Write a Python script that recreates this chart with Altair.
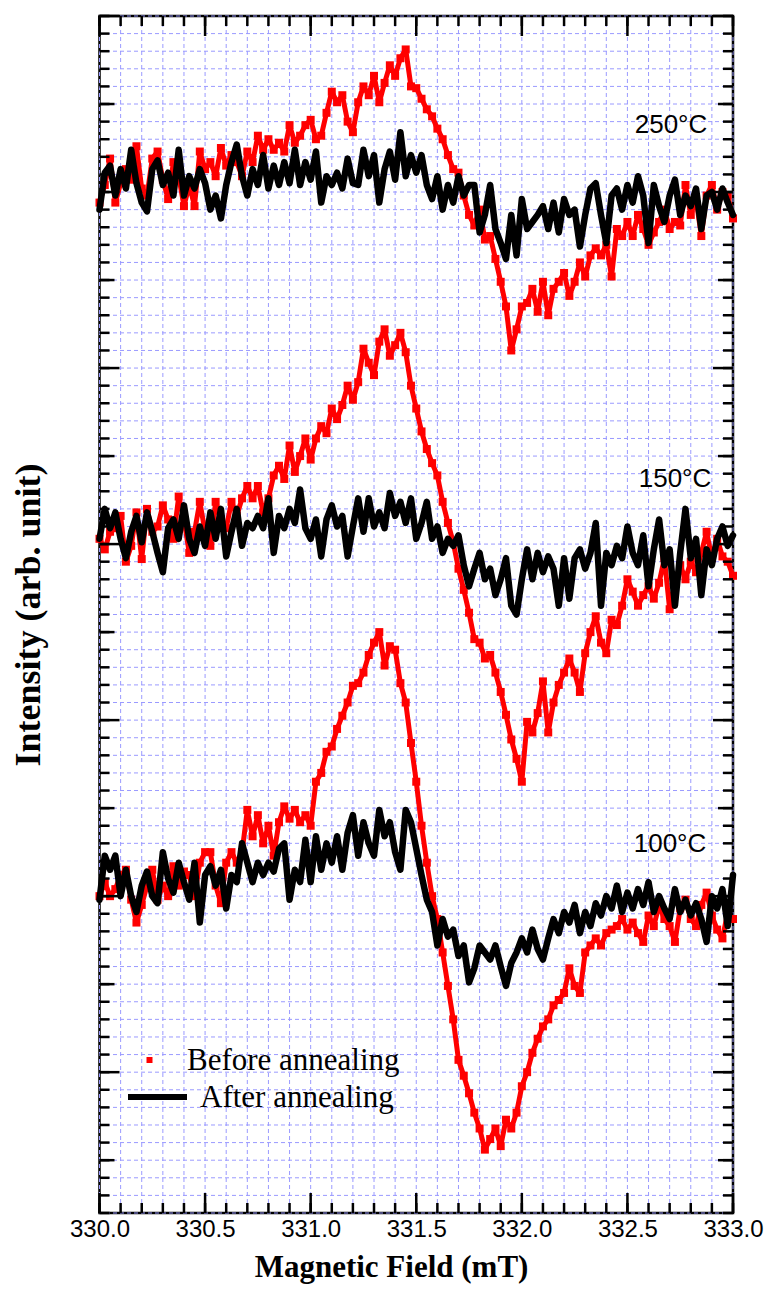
import altair as alt
import pandas as pd

# Magnetic field samples (mT)
field = [round(330 + 0.025 * i, 3) for i in range(121)]

# Intensities (arb. unit, one minor grid step = 1)
before_250 = [
    29.4, 30.4, 31.9, 29.4, 30.5, 31.3, 30.7, 32.6, 30.2, 29.8,
    31.9, 32.3, 30.7, 29.6, 31.7, 30.9, 29.2, 30.4, 29.2, 32.3,
    31.3, 31.7, 30.9, 32.5, 31.5, 32.1, 31.7, 30.9, 32.3, 31.7,
    33.2, 32.4, 33.0, 32.4, 32.8, 32.3, 33.8, 32.8, 33.2, 33.8,
    34.1, 33.0, 33.2, 34.5, 35.7, 35.1, 35.5, 34.0, 33.4, 35.1,
    36.0, 35.5, 36.6, 35.1, 36.2, 37.2, 36.6, 37.6, 38.1, 36.0,
    35.9, 35.3, 34.7, 34.3, 33.6, 33.0, 32.1, 31.3, 31.1, 29.8,
    28.7, 28.1, 29.0, 27.3, 27.5, 26.2, 24.9, 23.5, 21.0, 22.2,
    23.5, 23.7, 24.5, 23.2, 24.9, 23.0, 24.5, 24.9, 25.4, 24.1,
    24.9, 26.0, 25.2, 26.4, 26.8, 26.4, 27.0, 25.2, 27.9, 27.5,
    28.3, 27.5, 28.7, 27.9, 27.0, 27.7, 28.3, 29.0, 27.9, 28.3,
    28.1, 30.4, 28.7, 29.6, 27.5, 29.8, 30.4, 29.0, 30.0, 29.8,
    28.5,
]
after_250 = [
    29.0, 31.1, 31.5, 29.8, 31.3, 30.2, 32.4, 30.5, 29.4, 28.9,
    31.3, 31.8, 30.4, 31.1, 29.8, 32.4, 29.8, 30.9, 30.2, 31.3,
    30.5, 29.0, 29.8, 28.5, 30.4, 31.7, 32.7, 30.9, 29.8, 31.3,
    30.4, 32.1, 30.2, 31.5, 30.4, 31.7, 30.5, 32.4, 30.4, 31.7,
    30.7, 32.3, 29.4, 30.9, 30.4, 31.1, 30.2, 31.9, 30.5, 30.4,
    32.4, 30.9, 32.1, 29.4, 31.3, 32.3, 30.7, 33.4, 30.9, 32.1,
    31.1, 32.1, 30.4, 29.6, 30.9, 29.0, 30.4, 29.4, 30.9, 29.8,
    30.4, 30.4, 27.7, 28.7, 30.4, 27.9, 27.1, 26.2, 28.7, 26.4,
    29.6, 27.9, 28.3, 28.7, 29.2, 27.9, 29.4, 27.7, 29.6, 28.7,
    29.0, 26.9, 28.7, 30.2, 30.5, 28.7, 27.1, 29.8, 30.2, 29.0,
    30.4, 29.4, 30.9, 29.8, 27.1, 30.4, 29.2, 28.3, 29.8, 30.7,
    28.7, 29.8, 29.2, 30.2, 27.9, 29.8, 30.0, 29.0, 30.2, 29.4,
    28.7,
]
before_150 = [
    10.3, 9.7, 10.7, 10.9, 11.6, 9.0, 9.9, 11.8, 9.15, 12.0,
    10.7, 11.0, 12.2, 11.4, 10.3, 12.7, 11.4, 9.5, 10.7, 12.4,
    10.7, 9.9, 12.4, 11.4, 10.9, 12.4, 11.6, 12.6, 13.3, 12.6,
    13.3, 11.8, 12.6, 13.9, 14.45, 13.7, 15.6, 14.1, 15.0, 16.0,
    14.8, 16.0, 16.7, 16.3, 17.7, 17.1, 17.9, 19.0, 18.2, 19.2,
    21.1, 20.3, 19.6, 21.5, 22.2, 20.7, 21.3, 22.0, 20.9, 19.0,
    17.7, 16.4, 15.4, 14.6, 13.9, 12.4, 11.2, 10.1, 8.6, 7.4,
    6.1, 4.6, 4.4, 3.5, 3.7, 2.7, 1.6, 0.3, -1.1, -2.2,
    -3.5, -0.1, -0.7, 0.4, 2.2, -0.7, 1.0, 2.0, 2.7, 3.5,
    2.7, 1.6, 3.8, 5.0, 5.9, 4.4, 3.8, 5.7, 5.4, 6.5,
    8.0, 7.3, 6.5, 7.1, 7.6, 6.9, 7.8, 9.2, 6.3, 7.8,
    8.8, 8.0, 9.0, 8.4, 9.5, 10.7, 9.2, 10.3, 9.3, 9.0,
    8.2,
]
after_150 = [
    10.3, 12.0, 10.9, 11.8, 10.3, 9.2, 10.7, 11.6, 10.1, 11.8,
    10.7, 9.5, 8.4, 10.9, 11.4, 10.3, 12.2, 10.3, 9.5, 11.0,
    9.9, 11.8, 10.3, 12.0, 9.3, 10.7, 12.0, 9.9, 11.2, 10.9,
    11.6, 10.9, 12.6, 9.5, 11.6, 10.9, 12.0, 11.2, 13.1, 10.9,
    10.3, 11.4, 9.3, 11.4, 12.2, 11.0, 11.6, 9.3, 11.0, 12.6,
    10.7, 12.6, 11.0, 11.8, 10.9, 12.9, 11.6, 12.4, 11.2, 12.6,
    10.3, 11.2, 12.4, 10.3, 11.0, 9.5, 10.3, 9.9, 10.5, 8.8,
    7.6, 8.6, 9.5, 8.0, 8.6, 7.1, 8.0, 9.2, 6.5, 6.0,
    8.0, 9.7, 8.0, 9.5, 8.4, 9.3, 8.6, 6.5, 9.2, 6.9,
    9.2, 9.7, 8.6, 9.5, 11.2, 6.5, 9.5, 8.8, 9.9, 9.2,
    11.0, 9.5, 8.8, 10.5, 7.6, 9.7, 11.4, 8.8, 9.7, 6.5,
    9.5, 12.0, 9.2, 10.3, 7.1, 9.7, 8.8, 10.3, 11.0, 9.9,
    10.5,
]
before_100 = [
    -10.0, -9.2, -10.0, -9.6, -8.8, -8.5, -10.2, -11.5, -10.5, -9.4,
    -8.5, -10.2, -9.4, -10.0, -8.3, -9.4, -8.6, -8.8, -10.0, -8.1,
    -7.5, -7.5, -9.4, -10.4, -8.1, -7.5, -8.1, -7.5, -5.1, -6.6,
    -5.4, -7.0, -6.0, -7.7, -5.8, -4.9, -5.6, -5.1, -5.8, -5.4,
    -6.0, -3.5, -3.0, -1.8, -1.5, -0.5, 0.25, 1.0, 1.95, 2.1,
    2.7, 3.7, 4.4, 5.0, 3.1, 4.2, 4.0, 2.1, 1.0, -1.3,
    -3.5, -6.0, -8.1, -10.0, -11.3, -13.2, -15.1, -17.0, -19.3, -20.2,
    -21.2, -22.3, -23.2, -24.4, -23.8, -23.2, -24.2, -22.7, -23.2, -22.3,
    -20.8, -20.0, -18.9, -18.1, -17.4, -17.0, -16.2, -15.9, -15.5, -14.1,
    -15.1, -15.5, -13.2, -12.8, -12.4, -12.8, -12.1, -11.9, -11.7, -11.3,
    -11.9, -11.5, -12.1, -12.6, -11.1, -11.7, -10.5, -11.3, -11.7, -12.6,
    -10.7, -10.2, -11.3, -11.7, -10.5, -9.8, -11.1, -11.9, -12.4, -10.9,
    -11.3,
]
after_100 = [
    -10.2, -7.7, -8.5, -7.7, -10.0, -8.5, -10.0, -10.9, -9.4, -8.6,
    -10.0, -10.4, -7.5, -9.0, -9.8, -8.1, -9.2, -10.2, -8.1, -11.5,
    -8.8, -8.3, -9.4, -8.5, -10.7, -8.8, -9.2, -7.0, -8.1, -9.2,
    -8.1, -8.8, -8.1, -8.6, -7.3, -7.0, -10.2, -8.5, -9.2, -6.8,
    -9.2, -6.6, -8.5, -7.0, -8.1, -6.6, -8.5, -6.4, -5.4, -7.7,
    -5.8, -7.0, -7.7, -5.1, -6.6, -5.8, -7.5, -8.5, -5.1, -5.8,
    -7.3, -8.8, -10.2, -10.9, -12.8, -11.3, -12.3, -11.9, -13.4, -12.8,
    -14.9, -14.1, -12.8, -13.2, -13.6, -12.8, -14.0, -15.1, -13.8, -13.2,
    -12.4, -13.2, -11.9, -13.0, -13.6, -12.4, -11.3, -12.1, -10.9, -11.5,
    -10.5, -12.1, -10.9, -11.7, -10.4, -11.1, -10.0, -10.7, -9.4, -10.9,
    -9.8, -10.7, -9.6, -10.5, -9.2, -10.9, -10.0, -10.7, -11.3, -9.6,
    -10.9, -10.2, -11.1, -10.4, -11.3, -12.6, -10.0, -10.7, -9.6, -11.7,
    -8.8,
]

temps = ["250°C", "150°C", "100°C"]
legend_labels = ["Before annealing", "After annealing"]
x_grid_values = [round(330 + 0.1 * i, 1) for i in range(31)]
x_major_values = [330.0, 330.5, 331.0, 331.5, 332.0, 332.5, 333.0]
y_grid_values = list(range(-28, 41))
y_medium_values = [v for v in y_grid_values if v % 5 == 0 and v % 10 != 0]
y_long_values = [v for v in y_grid_values if v % 10 == 0]

rows = []
for t, b, a in zip(temps, [before_250, before_150, before_100],
                   [after_250, after_150, after_100]):
    for f, vb, va in zip(field, b, a):
        rows.append({"field": f, "intensity": vb, "temp": t, "state": legend_labels[0]})
        rows.append({"field": f, "intensity": va, "temp": t, "state": legend_labels[1]})
df = pd.DataFrame(rows)

W, H = 633.5, 1197
xs = alt.Scale(domain=[330, 333], nice=False, zero=False)
ys = alt.Scale(domain=[-28, 40], nice=False, zero=False)
GRID = "#9a9aff"

x_axis = alt.Axis(
    values=x_major_values, format=".1f",
    labelOverlap=False, labelFlush=False, ticks=False, tickSize=0, domain=False, grid=False,
    labelFont="Liberation Sans", labelFontSize=24, labelColor="black", labelPadding=4,
    title="Magnetic Field (mT)", titleFont="Liberation Serif", titleFontSize=31,
    titleFontWeight="bold", titleColor="black", titleBaseline="alphabetic",
    titleY=63, titleX=291.5, titleAlign="center",
)
y_axis = alt.Axis(
    values=y_long_values, labels=False, ticks=False, tickSize=0, domain=False, grid=False,
    title="Intensity (arb. unit)", titleFont="Liberation Serif", titleFontSize=36,
    titleFontWeight="bold", titleColor="black", titlePadding=52,
)

def X():
    return alt.X("field:Q", scale=xs, axis=x_axis)

def Y():
    return alt.Y("intensity:Q", scale=ys, axis=y_axis)

# Dashed background grid (every 0.1 mT and every minor intensity step)
vgrid = alt.Chart(pd.DataFrame({"field": x_grid_values})).mark_rule(
    color=GRID, strokeWidth=1, strokeDash=[4, 3]
).encode(x=X())
hgrid = alt.Chart(pd.DataFrame({"intensity": y_grid_values})).mark_rule(
    color=GRID, strokeWidth=1, strokeDash=[4, 3]
).encode(y=Y())

base = alt.Chart(df)
red_line = base.transform_filter(alt.datum.state == legend_labels[0]).mark_line(
    color="red", strokeWidth=5, strokeJoin="round"
).encode(x=X(), y=Y(), detail="temp:N")
red_pts = base.transform_filter(alt.datum.state == legend_labels[0]).mark_square(
    color="red", size=64, opacity=1
).encode(x=X(), y=Y())
black_line = base.transform_filter(alt.datum.state == legend_labels[1]).mark_line(
    color="black", strokeWidth=6.5, strokeJoin="round", strokeCap="round"
).encode(x=X(), y=Y(), detail="temp:N")

# Inward ticks on all four sides
def xticks(values, length):
    c = alt.Chart(pd.DataFrame({"field": values})).mark_rule(color="black", strokeWidth=2.5)
    top = c.encode(x=X(), y=alt.value(0), y2=alt.value(length))
    bot = c.encode(x=X(), y=alt.value(H), y2=alt.value(H - length))
    return [top, bot]

def yticks(values, length):
    c = alt.Chart(pd.DataFrame({"intensity": values})).mark_rule(color="black", strokeWidth=2.5)
    left = c.encode(y=Y(), x=alt.value(0), x2=alt.value(length))
    right = c.encode(y=Y(), x=alt.value(W - length), x2=alt.value(W))
    return [left, right]

tick_layers = (xticks(x_grid_values, 10) + xticks(x_major_values, 20)
               + yticks(y_grid_values, 10) + yticks(y_medium_values, 15)
               + yticks(y_long_values, 20))

# Temperature annotations
temp_pos = [(571.5, 117), (575.5, 471), (570.5, 836)]
temp_layers = [
    alt.Chart(pd.DataFrame({"t": [t]})).mark_text(
        font="Liberation Sans", fontSize=26, color="black", align="center", baseline="alphabetic"
    ).encode(text="t:N", x=alt.value(px), y=alt.value(py))
    for t, (px, py) in zip(temps, temp_pos)
]

# Legend
leg_df1 = pd.DataFrame({"label": [legend_labels[0]]})
leg_df2 = pd.DataFrame({"label": [legend_labels[1]]})
leg_sq = alt.Chart(leg_df1).mark_square(color="red", size=36, opacity=1).encode(
    x=alt.value(50), y=alt.value(1044))
leg_t1 = alt.Chart(leg_df1).mark_text(
    font="Liberation Serif", fontSize=31, color="black", align="left", baseline="alphabetic"
).encode(text="label:N", x=alt.value(87.5), y=alt.value(1054))
leg_ln = alt.Chart(leg_df2).mark_rule(color="black", strokeWidth=6).encode(
    x=alt.value(28.5), x2=alt.value(87.5), y=alt.value(1081))
leg_t2 = alt.Chart(leg_df2).mark_text(
    font="Liberation Serif", fontSize=31, color="black", align="left", baseline="alphabetic"
).encode(text="label:N", x=alt.value(100.5), y=alt.value(1091))

chart = alt.layer(
    vgrid, hgrid, red_line, red_pts, black_line, *tick_layers, *temp_layers,
    leg_sq, leg_t1, leg_ln, leg_t2
).properties(
    width=W, height=H,
    autosize=alt.AutoSizeParams(type="none"),
    padding={"left": 99.5, "top": 16, "right": 34.5, "bottom": 77},
    background="white",
).configure_view(stroke="black", strokeWidth=2.5)

chart.save("out.html", embed_options={"renderer": "svg", "actions": False})
